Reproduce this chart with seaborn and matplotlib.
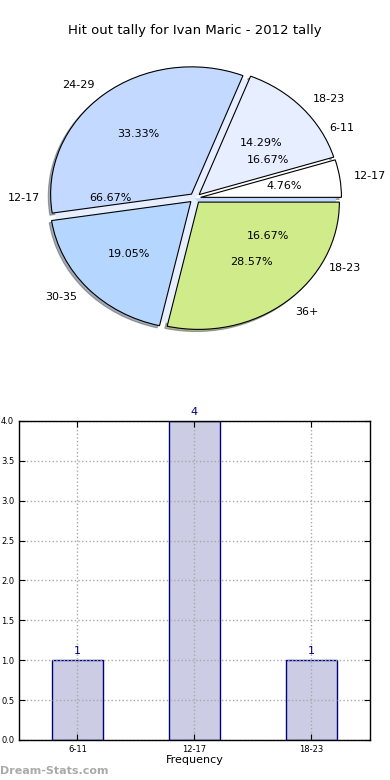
import matplotlib
matplotlib.use('Agg')
import matplotlib.pyplot as plt
import seaborn as sns
import pandas as pd

# outer pie: age groups for the season
age_groups = ['12-17', '18-23', '24-29', '30-35', '36+']
age_counts = [1, 3, 7, 4, 6]
pie_colors = ['#ffffff', '#e6eeff', '#c4d9ff', '#b5d6ff', '#d0eb8a']

# inner pie / bar chart: hit out tally
tally_bins = ['6-11', '12-17', '18-23']
tally_freq = [1, 4, 1]

sns.set_style('white')
plt.rcParams['font.family'] = ['DejaVu Sans']
plt.rcParams['text.color'] = 'black'
plt.rcParams['axes.labelcolor'] = 'black'
plt.rcParams['xtick.color'] = 'black'
plt.rcParams['ytick.color'] = 'black'

fig = plt.figure(figsize=(3.9, 7.8), dpi=100)
fig.text(0.5, 0.961, 'Hit out tally for Ivan Maric - 2012 tally',
         ha='center', va='center', fontsize=9.5)

ax1 = fig.add_axes([0.0485, 0.542, 0.903, 0.408])
ax1.pie(tally_freq, labels=tally_bins, colors=pie_colors[:3],
        autopct='%1.2f%%', startangle=0,
        wedgeprops={'edgecolor': 'none'},
        textprops={'fontsize': 8})
ax1.pie(age_counts, labels=age_groups, colors=pie_colors,
        autopct='%1.2f%%', startangle=0,
        shadow={'ox': -0.012, 'oy': -0.012, 'shade': 0.6},
        explode=[0.04] * len(age_counts),
        wedgeprops={'edgecolor': 'black', 'linewidth': 0.8},
        textprops={'fontsize': 8})
# keep every label above the wedges
for t in ax1.texts:
    t.set_zorder(10)
ax1.set_aspect('auto')
ax1.set_xlim(-1.25, 1.25)
ax1.set_ylim(-1.25, 1.25)
ax1.axis('off')

ax2 = fig.add_axes([0.0487, 0.0513, 0.9, 0.409])
df = pd.DataFrame({'bin': tally_bins, 'freq': tally_freq})
sns.barplot(data=df, x='bin', y='freq', ax=ax2, color='#cccce5',
            saturation=1, edgecolor='navy', linewidth=1, width=0.44)
ax2.set_xlim(-0.5, 2.5)
ax2.set_ylim(0, 4)
ax2.set_yticks([i * 0.5 for i in range(9)])
ax2.set_yticklabels([f'{i * 0.5:.1f}' for i in range(9)])
for i, v in enumerate(tally_freq):
    ax2.text(i, v + 0.05, str(v), ha='center', va='bottom',
             color='navy', fontsize=8)
ax2.grid(True, linestyle=':', color='#a8a8a8', linewidth=1)
ax2.set_axisbelow(False)
for sp in ax2.spines.values():
    sp.set_color('black')
    sp.set_linewidth(1)
    sp.set_zorder(5)
ax2.tick_params(axis='both', direction='in', length=4, labelsize=6,
                top=True, right=True, bottom=True, left=True)
ax2.set_xlabel('Frequency', fontsize=8, labelpad=1)
ax2.set_ylabel('')

fig.text(0.0, 0.012, 'Dream-Stats.com', ha='left', va='center',
         fontsize=8, color='#aaaaaa', fontweight='bold')

fig.savefig('out.png', dpi=100)
